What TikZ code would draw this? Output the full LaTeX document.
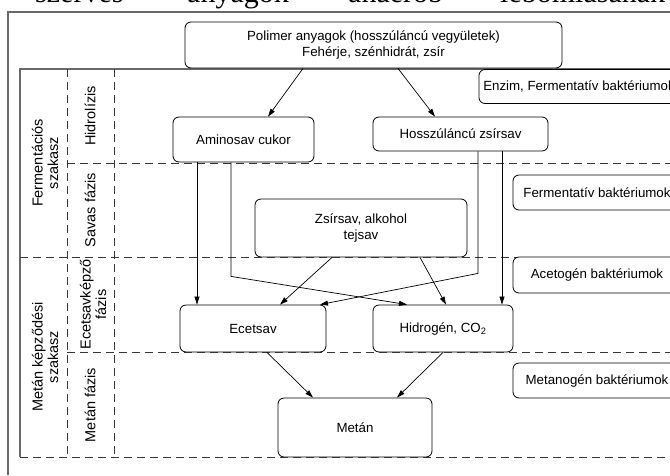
\documentclass[tikz,border=0pt]{standalone}
\usepackage{fontspec}
\setmainfont{Liberation Sans}
\newfontfamily\pageserif{Liberation Serif}
\usetikzlibrary{arrows.meta}
\definecolor{FrameGray}{RGB}{105,105,105}
\definecolor{DashGray}{RGB}{55,55,55}
\newcommand{\boxfont}{\fontsize{13.3}{15.6}\selectfont}
\newcommand{\phasefont}{\fontsize{14.5}{15.5}\selectfont}

\begin{document}
\begin{tikzpicture}[x=1pt, y=-1pt,
    stage/.style={rectangle, draw=black, fill=white, rounded corners=6pt,
                  align=center, font=\boxfont, inner sep=0pt, line width=0.8pt},
    microbe/.style={stage, minimum width=168pt, minimum height=35pt},
    phase/.style={rotate=90, align=center, font=\phasefont, inner sep=0pt},
    frame/.style={draw=FrameGray, line width=1.3pt},
    sep/.style={draw=DashGray, dash pattern=on 8pt off 5pt, line width=0.8pt},
    arr/.style={-{Triangle[length=8pt,width=5pt]}, line width=0.7pt},
    pageword/.style={anchor=base west, inner sep=0pt,
                     font=\pageserif\fontsize{30}{30}\selectfont}
  ]
    \useasboundingbox (0,0) rectangle (670,475);
    \clip (0,0) rectangle (670,475);

    \foreach \x/\w [count=\i] in {35/szerves, 187/anyagok, 348/anaerob, 500/lebomlásának}
      \node[pageword] (word\i) at (\x,2.5) {\w};

    \draw[frame] (8,475) -- (8,12) -- (670,12);
    \draw[frame] (20,457) -- (20,69) -- (670,69);

    \draw[sep] (67,69) -- (67,457);
    \draw[sep] (114,69) -- (114,457);
    \draw[sep] (67,163) -- (670,163);
    \draw[sep] (20,257) -- (670,257);
    \draw[sep] (67,352) -- (670,352);
    \draw[sep] (20,457) -- (670,457);

    \node[phase] (ferm) at (45,163) {Fermentációs\\szakasz};
    \node[phase] (meth) at (45,357) {Metán képződési\\szakasz};
    \node[phase] (hydro) at (90,116) {Hidrolízis};
    \node[phase] (acid) at (90,210) {Savas fázis};
    \node[phase] (aceto) at (93,304.5) {Ecetsavképző\\fázis};
    \node[phase] (methph) at (90,405) {Metán fázis};

    \node[stage, minimum width=377pt, minimum height=46pt] (poly) at (373.5,45)
      {Polimer anyagok (hosszúláncú vegyületek)\\Fehérje, szénhidrát, zsír};

    \node[stage, minimum width=141pt, minimum height=45pt] (ami) at (243.5,139.5) {Aminosav cukor};
    \node[stage, minimum width=175pt, minimum height=34pt] (hossz) at (460.5,134) {Hosszúláncú zsírsav};
    \node[stage, minimum width=212pt, minimum height=58pt] (zsir) at (361,228) {Zsírsav, alkohol\\tejsav};
    \node[stage, minimum width=146pt, minimum height=47pt] (ecet) at (253,328.5) {Ecetsav};
    \node[stage, minimum width=140pt, minimum height=47pt] (hidro) at (443,328.5) {Hidrogén, CO\textsubscript{2}};
    \node[stage, minimum width=154pt, minimum height=59pt] (metan) at (355,427.5) {Metán};

    \node[microbe, minimum width=200pt, minimum height=34pt] (enz) at (579,86.5) {Enzim, Fermentatív baktériumok};
    \node[microbe] (fbakt) at (597,192.5) {Fermentatív baktériumok};
    \node[microbe, minimum height=36pt] (abakt) at (597,275) {Acetogén baktériumok};
    \node[microbe] (mbakt) at (597,380.5) {Metanogén baktériumok};

    \draw[arr] ([xshift=-70.5pt]poly.south) -- ([xshift=24.5pt]ami.north);
    \draw[arr] ([xshift=24.5pt]poly.south) -- ([xshift=-25.5pt]hossz.north);

    \draw[arr] ([xshift=-46.5pt]ami.south) -- ([xshift=-46.5pt]ami.south |- ecet.north);
    \draw[arr] ([xshift=-12.5pt]ami.south) -- ++(0,114) -- ([xshift=-36pt]hidro.north);
    \draw[arr] ([xshift=17.5pt]hossz.south) -- ++(0,122) -- ([xshift=67pt]ecet.north);
    \draw[arr] ([xshift=41.5pt]hossz.south) -- ([xshift=41.5pt]hossz.south |- hidro.north);

    \draw[arr] ([xshift=-29pt]zsir.south) -- ([xshift=27pt]ecet.north);
    \draw[arr] ([xshift=59pt]zsir.south) -- ([xshift=3pt]hidro.north);

    \draw[arr] ([xshift=14pt]ecet.south) -- ([xshift=-42pt]metan.north);
    \draw[arr] (hidro.south) -- ([xshift=42pt]metan.north);
  \end{tikzpicture}
\end{document}
